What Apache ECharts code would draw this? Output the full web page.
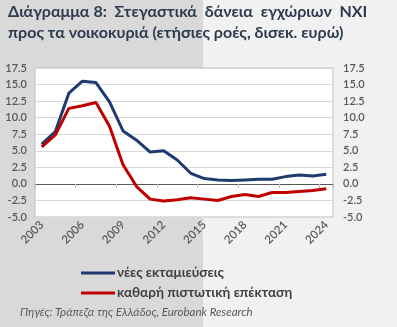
<!DOCTYPE html>
<html><head><meta charset="utf-8">
<script src="https://cdn.jsdelivr.net/npm/echarts@6/dist/echarts.min.js"></script>
<style>html,body{margin:0;padding:0;background:#f1f1f1}#c{width:397px;height:327px}</style>
</head><body><div id="c"></div>
<script>
const years = ['2003','2004','2005','2006','2007','2008','2009','2010','2011','2012','2013','2014','2015','2016','2017','2018','2019','2020','2021','2022','2023','2024'];
const newLoans = [6.0,7.9,13.7,15.5,15.3,12.4,8.0,6.6,4.8,5.0,3.6,1.6,0.8,0.6,0.5,0.6,0.7,0.7,1.1,1.35,1.2,1.45];
const netCredit = [5.6,7.4,11.4,11.8,12.3,8.7,2.9,-0.4,-2.3,-2.6,-2.4,-2.1,-2.3,-2.5,-1.9,-1.6,-1.9,-1.3,-1.3,-1.15,-1.0,-0.75];
const seriesNames = ['νέες εκταμιεύσεις','καθαρή πιστωτική επέκταση'];
const yTicks = {min:-5, max:17.5, interval:2.5};

const chart = echarts.init(document.getElementById('c'), null, {renderer:'canvas'});
const FF = 'Lato, "Open Sans", sans-serif';
const yLab = {fontSize:11, color:'#595959', fontFamily:FF, fontWeight:600, formatter: v => v.toFixed(1)};
chart.setOption({
  animation:false,
  backgroundColor:'#f1f1f1',
  graphic:[
    {type:'rect', shape:{x:0,y:0,width:203,height:327}, style:{fill:'#d9d9d9'}, z:-10},
    {type:'text', left:8, top:4, style:{text:'Διάγραμμα 8:  Στεγαστικά  δάνεια  εγχώριων  ΝΧΙ', fontSize:16, fontWeight:'bold', fill:'#2e3b4e', fontFamily:FF}},
    {type:'text', left:8, top:25, style:{text:'προς τα νοικοκυριά (ετήσιες ροές, δισεκ. ευρώ)', fontSize:16, fontWeight:'bold', fill:'#2e3b4e', fontFamily:FF}},
    {type:'text', left:20, top:306, style:{text:'Πηγές: Τράπεζα της Ελλάδος, Eurobank Research', fontSize:11.5, fontStyle:'italic', fill:'#595959', fontFamily:FF}}
  ],
  legend:{orient:'vertical', left:76, top:261, itemWidth:34, itemHeight:3, itemGap:6,
    textStyle:{fontSize:13.5, fontWeight:'bold', color:'#404040', fontFamily:FF, padding:[0,0,0,-3]},
    data:seriesNames.map(n=>({name:n, icon:'rect'}))},
  grid:{left:35, right:64, top:68, bottom:110, show:true, backgroundColor:'#ffffff', borderColor:'#bfbfbf', borderWidth:1},
  xAxis:[
    {type:'category', data:years, boundaryGap:true, position:'bottom',
     axisLine:{show:false, onZero:false}, axisTick:{show:false},
     axisLabel:{interval:2, rotate:45, fontSize:11.5, color:'#595959', fontWeight:600, fontFamily:FF, margin:6}},
    {type:'category', data:years, boundaryGap:true, position:'bottom',
     axisLine:{show:true, onZero:true, onZeroAxisIndex:0, lineStyle:{color:'#595959', width:1}},
     axisTick:{show:true, interval:2, length:4, inside:false, lineStyle:{color:'#bfbfbf'}},
     axisLabel:{show:false}}
  ],
  yAxis:[
    {type:'value', min:yTicks.min, max:yTicks.max, interval:yTicks.interval, position:'left',
     axisLine:{show:false}, axisTick:{show:false}, axisLabel:yLab,
     splitLine:{lineStyle:{color:'#d9d9d9', width:1}}},
    {type:'value', min:yTicks.min, max:yTicks.max, interval:yTicks.interval, position:'right',
     axisLine:{show:false}, axisTick:{show:false}, axisLabel:Object.assign({}, yLab, {margin:10}),
     splitLine:{show:false}}
  ],
  series:[
    {name:seriesNames[0], type:'line', data:newLoans, symbol:'none', lineStyle:{color:'#1f3a6e', width:3}, itemStyle:{color:'#1f3a6e'}, z:3},
    {name:seriesNames[1], type:'line', data:netCredit, symbol:'none', lineStyle:{color:'#c00000', width:3}, itemStyle:{color:'#c00000'}, z:3}
  ]
});
</script></body></html>
